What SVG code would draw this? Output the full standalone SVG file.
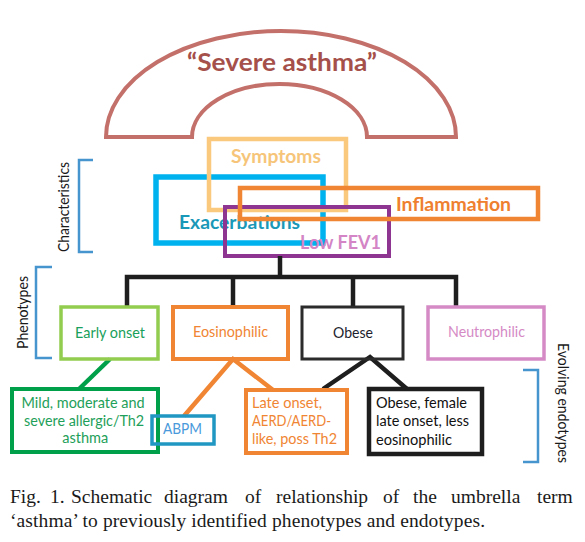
<svg xmlns="http://www.w3.org/2000/svg" width="585" height="542" viewBox="0 0 585 542">
<style>
  .box{fill:none;stroke-linejoin:miter}
  .lbl{font-family:Lato,"Liberation Sans",sans-serif;text-anchor:middle}
  .big{font-weight:bold;font-size:19.5px}
  .sm{font-size:15px}
  .lt{font-family:Lato,"Liberation Sans",sans-serif;font-size:15px}
  .brk{fill:none;stroke:#4695CE;stroke-width:2.5}
  .side{font-family:Lato,"Liberation Sans",sans-serif;font-size:15px;text-anchor:middle;fill:#1a1a1a}
  .conn{fill:none;stroke-width:4.5;stroke-linejoin:miter}
  .cap{font-family:"Liberation Serif","Times New Roman",serif;font-size:19.5px;fill:#1a1a1a}
</style>
<rect width="585" height="542" fill="#ffffff"/>

<g id="severe-asthma">
  <path d="M106,137 A175,106 0 0 1 456,137 H367 A87.5,53 0 0 0 192,137 Z" fill="none" stroke="#C4706A" stroke-width="4"/>
  <text class="lbl" x="282" y="71" font-size="25.5" font-weight="bold" fill="#A5504A" textLength="190" lengthAdjust="spacingAndGlyphs">“Severe asthma”</text>
</g>

<g id="characteristics-bracket">
  <path class="brk" d="M93,160 H79 V252 H93"/>
  <text class="side" transform="translate(69,207) rotate(-90)" textLength="90" lengthAdjust="spacingAndGlyphs">Characteristics</text>
</g>

<g id="exacerbations">
  <rect class="box" x="156" y="177" width="167" height="66" stroke="#00B3EF" stroke-width="5.5"/>
  <text class="lbl big" x="239.5" y="229" fill="#1A98B8" textLength="121" lengthAdjust="spacingAndGlyphs">Exacerbations</text>
</g>

<g id="symptoms">
  <rect class="box" x="209" y="139" width="137" height="71" stroke="#FAC97D" stroke-width="4.5"/>
  <text class="lbl big" x="276" y="163" fill="#F6C57A" textLength="90" lengthAdjust="spacingAndGlyphs">Symptoms</text>
</g>

<g id="low-fev1">
  <rect class="box" x="225" y="207" width="164" height="49" stroke="#8E3592" stroke-width="4"/>
  <text class="lbl big" x="340.5" y="249" fill="#D385C5" textLength="81" lengthAdjust="spacingAndGlyphs">Low FEV1</text>
</g>

<g id="inflammation">
  <rect class="box" x="240" y="188" width="298" height="31" stroke="#F08533" stroke-width="4.5"/>
  <text class="lbl big" x="453.5" y="211" fill="#EE8030" textLength="115" lengthAdjust="spacingAndGlyphs">Inflammation</text>
</g>

<g id="connectors">
  <path class="conn" stroke="#1E1E1E" d="M280,256 V277"/>
  <path class="conn" stroke="#1E1E1E" d="M127,307 V277 H456 V307"/>
  <path class="conn" stroke="#1E1E1E" d="M233,277 V307"/>
  <path class="conn" stroke="#1E1E1E" d="M353,277 V307"/>
  <path class="conn" stroke="#00A04A" d="M110,359 L79,389"/>
  <path class="conn" stroke="#F08533" d="M184,416 L233,359 L273,390"/>
  <path class="conn" stroke="#1E1E1E" d="M323,389 L370,357 L407,389"/>
</g>

<g id="phenotypes-bracket">
  <path class="brk" d="M52,267 H36 V358 H52"/>
  <text class="side" transform="translate(28,312.5) rotate(-90)" textLength="73" lengthAdjust="spacingAndGlyphs">Phenotypes</text>
</g>

<g id="early-onset">
  <rect class="box" x="61" y="307" width="97" height="52" stroke="#92CD50" stroke-width="3.5"/>
  <text class="lbl sm" x="110" y="338" fill="#19A05A" textLength="70" lengthAdjust="spacingAndGlyphs">Early onset</text>
</g>

<g id="eosinophilic">
  <rect class="box" x="173" y="307" width="115" height="52" stroke="#F08533" stroke-width="4"/>
  <text class="lbl sm" x="230.5" y="337" fill="#F08533" textLength="75" lengthAdjust="spacingAndGlyphs">Eosinophilic</text>
</g>

<g id="obese">
  <rect class="box" x="302" y="307" width="101" height="52" stroke="#2B2B2B" stroke-width="3"/>
  <text class="lbl sm" x="353" y="338" fill="#1E1E2E" textLength="40" lengthAdjust="spacingAndGlyphs">Obese</text>
</g>

<g id="neutrophilic">
  <rect class="box" x="428" y="307" width="116" height="52" stroke="#D58AC5" stroke-width="3.5"/>
  <text class="lbl sm" x="486.5" y="337" fill="#D58AC5" textLength="77" lengthAdjust="spacingAndGlyphs">Neutrophilic</text>
</g>

<g id="evolving-endotypes-bracket">
  <path class="brk" d="M523,370 H538 V462 H523"/>
  <text class="side" transform="translate(558,403) rotate(90)" textLength="120" lengthAdjust="spacingAndGlyphs">Evolving endotypes</text>
</g>

<g id="mild-moderate-severe">
  <rect class="box" x="12" y="389" width="146" height="63" stroke="#00A04A" stroke-width="4"/>
  <text class="lbl sm" fill="#1EA05A">
    <tspan x="85" y="408" textLength="123" lengthAdjust="spacingAndGlyphs">Mild, moderate and</tspan>
    <tspan x="86" y="426" textLength="120" lengthAdjust="spacingAndGlyphs">severe allergic/Th2</tspan>
    <tspan x="85.3" y="443" textLength="46" lengthAdjust="spacingAndGlyphs">asthma</tspan>
  </text>
</g>

<g id="abpm">
  <rect class="box" x="152" y="416" width="62" height="28" stroke="#1F97C2" stroke-width="3.5"/>
  <text class="lbl sm" x="182.5" y="434" fill="#4A9ADB" textLength="39" lengthAdjust="spacingAndGlyphs">ABPM</text>
</g>

<g id="late-onset">
  <rect class="box" x="246" y="390" width="101" height="63" stroke="#F08533" stroke-width="4"/>
  <text class="lt" fill="#F08533">
    <tspan x="252" y="408" textLength="70" lengthAdjust="spacingAndGlyphs">Late onset,</tspan>
    <tspan x="252" y="426" textLength="79" lengthAdjust="spacingAndGlyphs">AERD/AERD-</tspan>
    <tspan x="252" y="444" textLength="85" lengthAdjust="spacingAndGlyphs">like, poss Th2</tspan>
  </text>
</g>

<g id="obese-female">
  <rect class="box" x="369" y="389" width="113" height="65" stroke="#1E1E1E" stroke-width="4.5"/>
  <text class="lt" fill="#111111">
    <tspan x="376" y="408" textLength="91" lengthAdjust="spacingAndGlyphs">Obese, female</tspan>
    <tspan x="376" y="426" textLength="93" lengthAdjust="spacingAndGlyphs">late onset, less</tspan>
    <tspan x="376" y="445" textLength="76" lengthAdjust="spacingAndGlyphs">eosinophilic</tspan>
  </text>
</g>

<g id="caption">
  <text class="cap" y="503"><tspan x="10">Fig.</tspan><tspan x="50">1.</tspan><tspan x="71">Schematic</tspan><tspan x="164">diagram</tspan><tspan x="245">of</tspan><tspan x="276">relationship</tspan><tspan x="383">of</tspan><tspan x="413">the</tspan><tspan x="451">umbrella</tspan><tspan x="537">term</tspan></text>
  <text class="cap" x="10" y="527" textLength="475" lengthAdjust="spacing">‘asthma’ to previously identified phenotypes and endotypes.</text>
</g>
</svg>
